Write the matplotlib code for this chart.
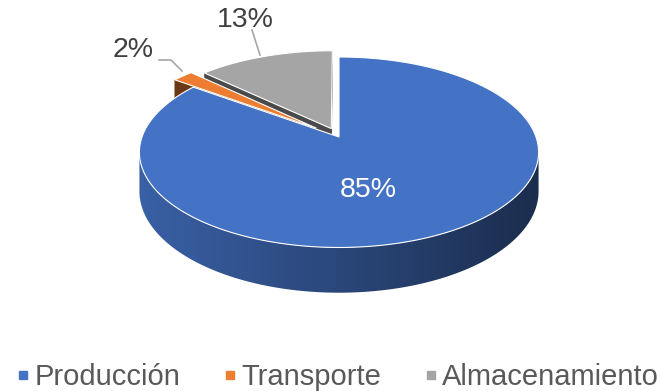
import numpy as np
import matplotlib
matplotlib.use("Agg")
import matplotlib.pyplot as plt
from matplotlib.patches import Polygon
from matplotlib.lines import Line2D
from matplotlib.colors import to_rgb

plt.rcParams['font.family'] = ['Liberation Sans', 'DejaVu Sans']

labels = ['Producción', 'Transporte', 'Almacenamiento']
values = [85, 2, 13]
colors = ['#4472C4', '#ED7D31', '#A5A5A5']
explode = [0.0, 0.15, 0.1]

# projection (pixel space, y pointing down)
cx, cy = 339, 137
A, B = 197, 92.8
persp = 0.16
H = 38


def proj(x, z, h=0.0):
    s = 1.0 / (1.0 + persp * z)
    return cx + A * x * s, cy - B * z * s + H * h * s


def shade(c, f):
    r, g, b = to_rgb(c)
    return (r * f, g * f, b * f)


def area(pts):
    x = np.array([p[0] for p in pts])
    y = np.array([p[1] for p in pts])
    return 0.5 * np.sum(x * np.roll(y, -1) - np.roll(x, -1) * y)


fig = plt.figure(figsize=(6.6, 3.91), dpi=100)
ax = fig.add_axes([0, 0, 1, 1])

fracs = np.array(values, dtype=float) / sum(values)
starts = np.concatenate([[0], np.cumsum(fracs)[:-1]]) * 2 * np.pi
ends = np.cumsum(fracs) * 2 * np.pi

# back slices first
order = [2, 1, 0]
for i in order:
    t0, t1 = starts[i], ends[i]
    mid = (t0 + t1) / 2
    ox, oz = explode[i] * np.sin(mid), explode[i] * np.cos(mid)
    ts = np.linspace(t0, t1, max(int((t1 - t0) / 0.01), 4))

    def rim(t, h):
        return proj(ox + np.sin(t), oz + np.cos(t), h)

    c_top = proj(ox, oz, 0)
    c_bot = proj(ox, oz, 1)

    # radial faces
    for quad in ([c_top, rim(t0, 0), rim(t0, 1), c_bot],
                 [rim(t1, 0), c_top, c_bot, rim(t1, 1)]):
        if area(quad) < 0:
            ax.add_patch(Polygon(quad, closed=True, fc=shade(colors[i], 0.45),
                                 ec=shade(colors[i], 0.45), lw=0.3, zorder=1))

    # outer wall: visible runs, filled with a left-to-right gradient
    runs, cur = [], []
    for a0, a1 in zip(ts[:-1], ts[1:]):
        quad = [rim(a0, 0), rim(a1, 0), rim(a1, 1), rim(a0, 1)]
        if area(quad) < 0:
            if not cur:
                cur = [a0]
            cur.append(a1)
        elif cur:
            runs.append(cur)
            cur = []
    if cur:
        runs.append(cur)
    for run in runs:
        pts = [rim(a, 0) for a in run] + [rim(a, 1) for a in run[::-1]]
        wall = Polygon(pts, closed=True, fc='none', ec='none', zorder=1)
        ax.add_patch(wall)
        xs = np.array([p[0] for p in pts])
        ys = np.array([p[1] for p in pts])
        gx = np.linspace(xs.min(), xs.max(), 200)
        f = 0.62 - 0.22 * np.clip((gx - cx) / A, -1, 1)
        grad = np.array([shade(colors[i], v) for v in f])[None, :, :]
        im = ax.imshow(grad, extent=(xs.min(), xs.max(), ys.max(), ys.min()),
                       aspect='auto', interpolation='bilinear', zorder=1)
        im.set_clip_path(wall)

    # top face
    top = [c_top] + [rim(t, 0) for t in ts]
    ax.add_patch(Polygon(top, closed=True, fc=colors[i], ec='white', lw=0.8, zorder=2))

ax.set_xlim(0, 660)
ax.set_ylim(391, 0)
ax.axis('off')

# data labels
pct = ['{:d}%'.format(v) for v in values]
ax.text(368, 190, pct[0], color='white', fontsize=20.5, ha='center', va='center', zorder=5)
ax.text(133, 50, pct[1], color='#404040', fontsize=20.5, ha='center', va='center', zorder=5)
ax.text(245, 20, pct[2], color='#404040', fontsize=20.5, ha='center', va='center', zorder=5)
ax.plot([159, 171, 182], [60, 60, 71], color='#A6A6A6', lw=1.2, zorder=4)
ax.plot([252, 260], [30, 55], color='#A6A6A6', lw=1.2, zorder=4)

handles = [Line2D([], [], marker='s', ls='', color=c, markersize=6) for c in colors]
leg = ax.legend(handles, labels, loc='center', bbox_to_anchor=(338 / 660, 1 - 377 / 391),
                ncol=3, frameon=False, fontsize=21, handlelength=0.4,
                handletextpad=0.2, columnspacing=1.5, borderpad=0)
for t in leg.get_texts():
    t.set_color('#595959')

fig.savefig('out.png', dpi=100)
